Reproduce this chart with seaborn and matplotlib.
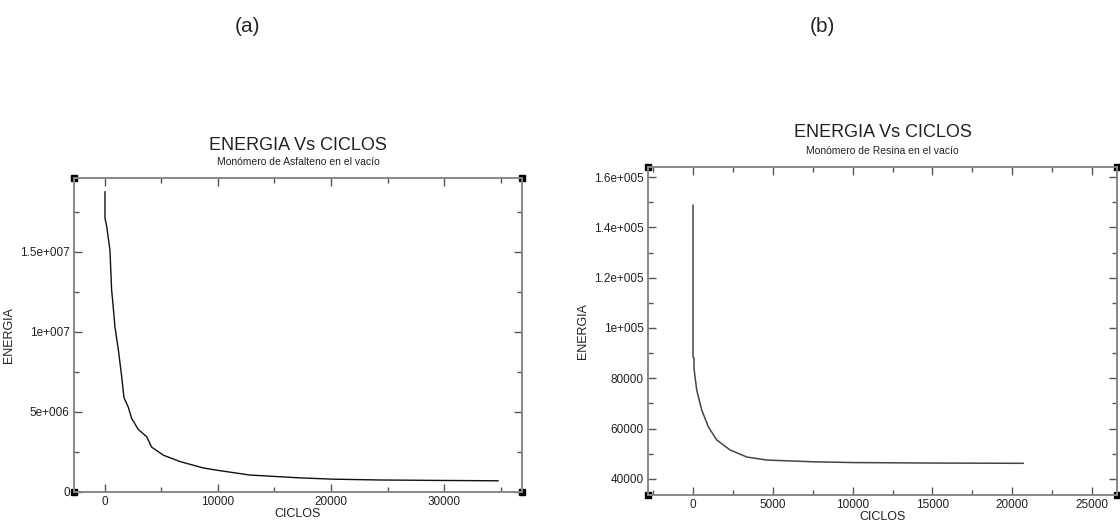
import matplotlib
matplotlib.use("Agg")
import matplotlib.pyplot as plt
import seaborn as sns
import pandas as pd
from matplotlib.ticker import FixedLocator, FixedFormatter, MultipleLocator

# ---- data ----
ciclos_a = [0, 0, 150, 440, 590, 700, 885, 1180, 1480, 1680, 2060, 2360, 2950, 3690, 4130,
            5160, 6640, 8700, 10000, 12800, 17300, 20200, 24300, 30000, 34800]
energia_a = [18.75e6, 17.1e6, 16.6e6, 15.1e6, 12.6e6, 11.8e6, 10.3e6, 8.9e6, 7.2e6, 5.9e6,
             5.3e6, 4.6e6, 3.9e6, 3.45e6, 2.8e6, 2.3e6, 1.9e6, 1.5e6, 1.35e6, 1.06e6,
             0.88e6, 0.8e6, 0.75e6, 0.72e6, 0.7e6]

ciclos_b = [0, 0, 60, 60, 230, 545, 960, 1480, 2320, 3370, 4620, 7520, 10000, 15000, 20700]
energia_b = [148900, 88500, 88000, 84000, 75400, 67400, 60700, 55500, 51500, 48700, 47500,
             46800, 46500, 46300, 46200]

yticks_a = [0, 5e6, 1e7, 1.5e7]
yticklabels_a = ["0", "5e+006", "1e+007", "1.5e+007"]
xticks_a = [0, 10000, 20000, 30000]
xticklabels_a = ["0", "10000", "20000", "30000"]

yticks_b = [40000, 60000, 80000, 100000, 120000, 140000, 160000]
yticklabels_b = ["40000", "60000", "80000", "1e+005", "1.2e+005", "1.4e+005", "1.6e+005"]
xticks_b = [0, 5000, 10000, 15000, 20000, 25000]
xticklabels_b = ["0", "5000", "10000", "15000", "20000", "25000"]

title = "ENERGIA Vs CICLOS"
subtitle_a = "Monómero de Asfalteno en el vacío"
subtitle_b = "Monómero de Resina en el vacío"
panel_labels = ["(a)", "(b)"]

sns.set_theme(style="white")
plt.rcParams['font.family'] = ['Liberation Sans', 'DejaVu Sans']

fig = plt.figure(figsize=(11.2, 5.26), dpi=100)
W, H = 1120, 526

def make_axes(l, t, r, b):
    return fig.add_axes([l / W, 1 - b / H, (r - l) / W, (b - t) / H])

ax_a = make_axes(74, 178, 522, 492)
ax_b = make_axes(648, 167, 1117, 495)

df_a = pd.DataFrame({"CICLOS": ciclos_a, "ENERGIA": energia_a})
df_b = pd.DataFrame({"CICLOS": ciclos_b, "ENERGIA": energia_b})

sns.lineplot(data=df_a, x="CICLOS", y="ENERGIA", ax=ax_a, color="#111111", lw=1.0,
             sort=False, estimator=None)
sns.lineplot(data=df_b, x="CICLOS", y="ENERGIA", ax=ax_b, color="#444444", lw=1.1,
             sort=False, estimator=None)

def style(ax, xlim, ylim, xt, xtl, yt, ytl, xminor, yminor, sub):
    ax.set_xlim(*xlim)
    ax.set_ylim(*ylim)
    ax.xaxis.set_major_locator(FixedLocator(xt))
    ax.xaxis.set_major_formatter(FixedFormatter(xtl))
    ax.yaxis.set_major_locator(FixedLocator(yt))
    ax.yaxis.set_major_formatter(FixedFormatter(ytl))
    ax.xaxis.set_minor_locator(MultipleLocator(xminor))
    ax.yaxis.set_minor_locator(MultipleLocator(yminor))
    ax.tick_params(which="both", direction="in", top=True, right=True, bottom=True, left=True,
                   color="#555555", labelsize=8.5, labelcolor="#222222", pad=3)
    ax.tick_params(which="major", length=6, width=1.0)
    ax.tick_params(which="minor", length=3.5, width=1.0)
    for s in ax.spines.values():
        s.set_color("#888888")
        s.set_linewidth(1.4)
    ax.set_xlabel("CICLOS", fontsize=9, color="#222222", labelpad=0)
    ax.set_ylabel("ENERGIA", fontsize=9, color="#222222", labelpad=4)
    ax.text(0.5, 1.105, title, transform=ax.transAxes, ha="center", va="center",
            fontsize=13, color="#222222")
    ax.text(0.5, 1.05, sub, transform=ax.transAxes, ha="center", va="center",
            fontsize=7.5, color="#222222")
    ax.plot([0, 0, 1, 1], [0, 1, 0, 1], ls="none", marker="s", ms=4, color="black",
            transform=ax.transAxes, clip_on=False)

style(ax_a, (-2740, 36900), (0, 1.96e7), xticks_a, xticklabels_a, yticks_a, yticklabels_a,
      5000, 2.5e6, subtitle_a)
style(ax_b, (-2820, 26560), (33600, 164000), xticks_b, xticklabels_b, yticks_b, yticklabels_b,
      2500, 10000, subtitle_b)

fig.text(247 / W, 1 - 27 / H, panel_labels[0], ha="center", va="center", fontsize=15)
fig.text(822 / W, 1 - 27 / H, panel_labels[1], ha="center", va="center", fontsize=15)

fig.savefig("out.png", dpi=100, facecolor="white")
